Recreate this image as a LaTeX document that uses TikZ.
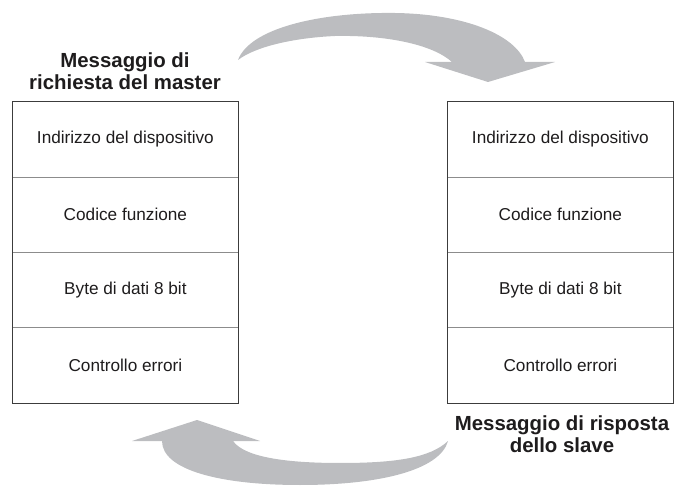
\documentclass[tikz,border=0pt]{standalone}
\usepackage{fontspec}
\setmainfont{Liberation Sans}
\usetikzlibrary{fit}
\definecolor{arrowgray}{RGB}{188,189,192}
\definecolor{framecol}{RGB}{60,60,60}
\definecolor{divcol}{RGB}{140,140,140}
\definecolor{txt}{RGB}{30,28,29}
\begin{document}
\begin{tikzpicture}[x=1pt,y=-1pt,
  cell/.style={rectangle, draw=divcol, line width=0.8pt, minimum width=226pt, minimum height=75.3pt, inner sep=0pt, anchor=north west, text=txt, font=\fontsize{17.2}{20}\selectfont},
  frame/.style={rectangle, draw=framecol, line width=1pt, inner sep=0pt},
  title/.style={align=center, text=txt, font=\fontsize{20.4}{22}\selectfont\bfseries, inner sep=0pt},
  bigarrow/.style={fill=arrowgray, draw=none}]
\useasboundingbox (0,0) rectangle (675,486);
% left column
\node[cell] (l1) at (12,101.5) {Indirizzo del dispositivo};
\node[cell] (l2) at (12,176.8) {Codice funzione};
\node[cell] (l3) at (12,252.1) {Byte di dati 8 bit};
\node[cell] (l4) at (12,327.4) {Controllo errori};
\node[frame, fit=(l1)(l4)] (lframe) {};
% right column
\node[cell] (r1) at (447,101.5) {Indirizzo del dispositivo};
\node[cell] (r2) at (447,176.8) {Codice funzione};
\node[cell] (r3) at (447,252.1) {Byte di dati 8 bit};
\node[cell] (r4) at (447,327.4) {Controllo errori};
\node[frame, fit=(r1)(r4)] (rframe) {};
% titles
\node[title] (ltitle) at (125,71.5) {Messaggio di\\richiesta del master};
\node[title] (rtitle) at (562,434.5) {Messaggio di risposta\\dello slave};
% top arrow
\path[bigarrow] (238,60) .. controls (250,28) and (320,12) .. (395,13)
  .. controls (465,14) and (515,35) .. (525,62) -- (555,62) -- (488,82) -- (425,62) -- (452,62)
  .. controls (432,44) and (385,35) .. (335,36)
  .. controls (292,38) and (255,47) .. (238,60) -- cycle;
% bottom arrow
\path[bigarrow] (448,441) .. controls (440,470) and (380,485) .. (300,485)
  .. controls (220,485) and (162,470) .. (162,441) -- (132,441) -- (197,420) -- (260,441) -- (233,441)
  .. controls (245,458) and (290,463) .. (340,463)
  .. controls (395,463) and (430,458) .. (448,441) -- cycle;
\end{tikzpicture}
\end{document}
